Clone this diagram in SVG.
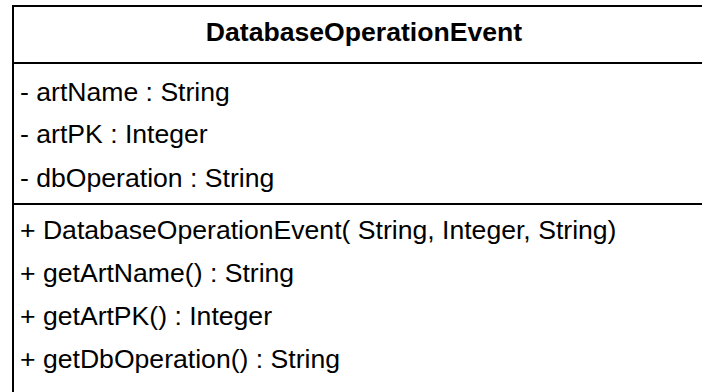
<svg xmlns="http://www.w3.org/2000/svg" width="702" height="392" viewBox="0 0 702 392">
<style>
.box{fill:#ffffff;stroke:#000000;stroke-width:2}
.sep{stroke:#000000;stroke-width:2}
.t{font-family:"Liberation Sans",Arial,sans-serif;font-size:26.6px;fill:#000000}
.title{font-weight:bold;text-anchor:middle}
</style>
<rect width="702" height="392" fill="#ffffff"/>
<g id="DatabaseOperationEvent">
<rect class="box" x="13" y="6" width="700" height="400"/>
<line class="sep" x1="13" y1="63" x2="702" y2="63"/>
<line class="sep" x1="13" y1="204" x2="702" y2="204"/>
<text class="t title" x="364" y="41">DatabaseOperationEvent</text>
<text class="t" x="20" y="101">- artName : String</text>
<text class="t" x="20" y="143">- artPK : Integer</text>
<text class="t" x="20" y="187">- dbOperation : String</text>
<text class="t" x="20" y="239">+ DatabaseOperationEvent( String, Integer, String)</text>
<text class="t" x="20" y="282">+ getArtName() : String</text>
<text class="t" x="20" y="325">+ getArtPK() : Integer</text>
<text class="t" x="20" y="368">+ getDbOperation() : String</text>
</g>
</svg>
